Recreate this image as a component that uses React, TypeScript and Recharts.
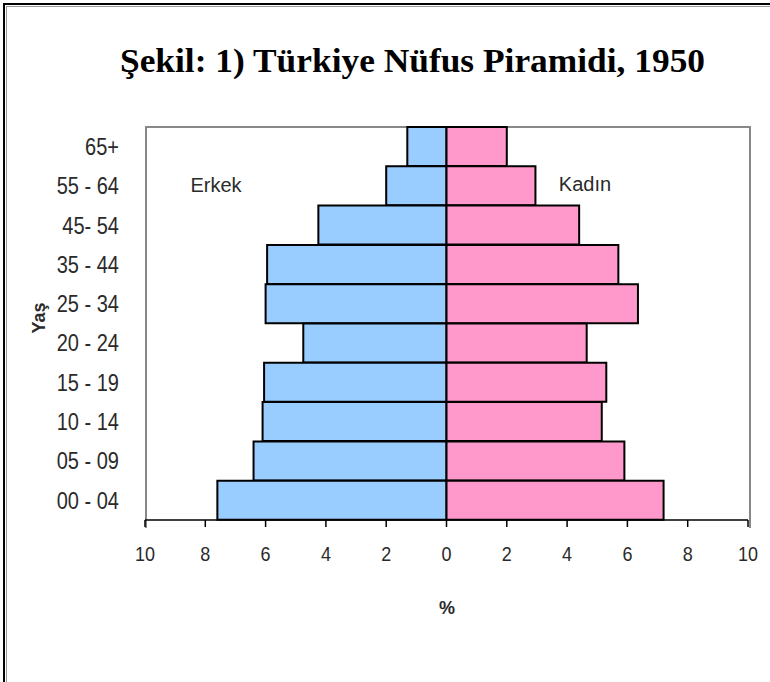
import React from "react";
import { BarChart, Bar, XAxis, YAxis } from "recharts";

const ageGroups = [
  "65+",
  "55 - 64",
  "45- 54",
  "35 - 44",
  "25 - 34",
  "20 - 24",
  "15 - 19",
  "10 - 14",
  "05 - 09",
  "00 - 04",
];
const erkek = [1.3, 2.0, 4.25, 5.95, 6.0, 4.75, 6.05, 6.1, 6.4, 7.6];
const kadin = [2.0, 2.95, 4.4, 5.7, 6.35, 4.65, 5.3, 5.15, 5.9, 7.2];
const xTicks = [-10, -8, -6, -4, -2, 0, 2, 4, 6, 8, 10];

const data = ageGroups.map((age, i) => ({
  age,
  erkek: -erkek[i],
  kadin: kadin[i],
}));

const FONT = "'Liberation Sans', Arial, sans-serif";
const TEXT = "#2a2a2a";

// the picture is a bit stretched vertically, so ticks get a scaleY
function XTick({ x, y, payload }: any) {
  return (
    <g transform={`translate(${x},${y}) scale(1,1.15)`}>
      <text textAnchor="middle" dy="0.71em" fontSize={18} fill={TEXT} fontFamily={FONT}>
        {Math.abs(payload.value)}
      </text>
    </g>
  );
}

function YTick({ x, y, payload }: any) {
  return (
    <g transform={`translate(${x},${y}) scale(1,1.15)`}>
      <text textAnchor="end" dy="0.36em" fontSize={20} fill={TEXT} fontFamily={FONT}>
        {payload.value}
      </text>
    </g>
  );
}

export default function App() {
  return (
    <div
      style={{
        position: "absolute",
        left: 0,
        top: 0,
        width: 770,
        height: 682,
        background: "#fff",
        overflow: "hidden",
      }}
    >
      {/* frame */}
      <div
        style={{
          position: "absolute",
          left: 3,
          top: 3,
          width: 800,
          height: 700,
          borderLeft: "2px solid #000",
          borderTop: "2px solid #000",
        }}
      />
      <div
        style={{
          position: "absolute",
          left: 6,
          top: 6,
          width: 800,
          height: 700,
          borderLeft: "1px solid #999",
          borderTop: "1px solid #999",
        }}
      />
      {/* plot box, behind the bars */}
      <div
        style={{
          position: "absolute",
          left: 145,
          top: 126,
          width: 602,
          height: 400,
          borderLeft: "2px solid #888",
          borderTop: "2px solid #888",
          borderRight: "2px solid #888",
        }}
      />
      <svg
        width={770}
        height={100}
        style={{ position: "absolute", left: 0, top: 0 }}
      >
        <text
          x={120}
          y={72}
          textLength={585}
          lengthAdjust="spacingAndGlyphs"
          fontSize={34}
          fontWeight="bold"
          fontFamily="'Liberation Serif', 'Times New Roman', serif"
          fill="#000"
        >
          Şekil: 1) Türkiye Nüfus Piramidi, 1950
        </text>
      </svg>
      <div style={{ position: "absolute", left: 0, top: 0 }}>
        <BarChart
          width={770}
          height={682}
          data={data}
          layout="vertical"
          stackOffset="sign"
          barCategoryGap={0}
          margin={{ top: 127, right: 22, left: 0, bottom: 0 }}
        >
          <XAxis
            type="number"
            domain={[-10, 10]}
            ticks={xTicks}
            interval={0}
            height={162}
            axisLine={{ stroke: "#000", strokeWidth: 1.5 }}
            tickLine={{ stroke: "#000", strokeWidth: 1.5 }}
            tickSize={7}
            tickMargin={19}
            tick={<XTick />}
          />
          <YAxis
            type="category"
            dataKey="age"
            width={145}
            tickLine={false}
            tickSize={0}
            tickMargin={26}
            interval={0}
            axisLine={false}
            tick={<YTick />}
          />
          <Bar
            dataKey="erkek"
            stackId="a"
            fill="#99CCFF"
            stroke="#000"
            strokeWidth={2}
            isAnimationActive={false}
          />
          <Bar
            dataKey="kadin"
            stackId="a"
            fill="#FF99CC"
            stroke="#000"
            strokeWidth={2}
            isAnimationActive={false}
          />
        </BarChart>
      </div>
      <svg
        width={770}
        height={682}
        style={{ position: "absolute", left: 0, top: 0, pointerEvents: "none" }}
      >
        <text x={216} y={185} textAnchor="middle" dy="0.36em" fontSize={20} fill={TEXT} fontFamily={FONT}>
          Erkek
        </text>
        <text x={585} y={184} textAnchor="middle" dy="0.36em" fontSize={20} fill={TEXT} fontFamily={FONT}>
          Kadın
        </text>
        <text
          transform="translate(39,318) rotate(-90)"
          textAnchor="middle"
          dy="0.36em"
          fontSize={18}
          fontWeight="bold"
          fill={TEXT}
          fontFamily={FONT}
        >
          Yaş
        </text>
        <text x={447} y={608} textAnchor="middle" dy="0.36em" fontSize={18} fontWeight="bold" fill={TEXT} fontFamily={FONT}>
          %
        </text>
      </svg>
    </div>
  );
}
